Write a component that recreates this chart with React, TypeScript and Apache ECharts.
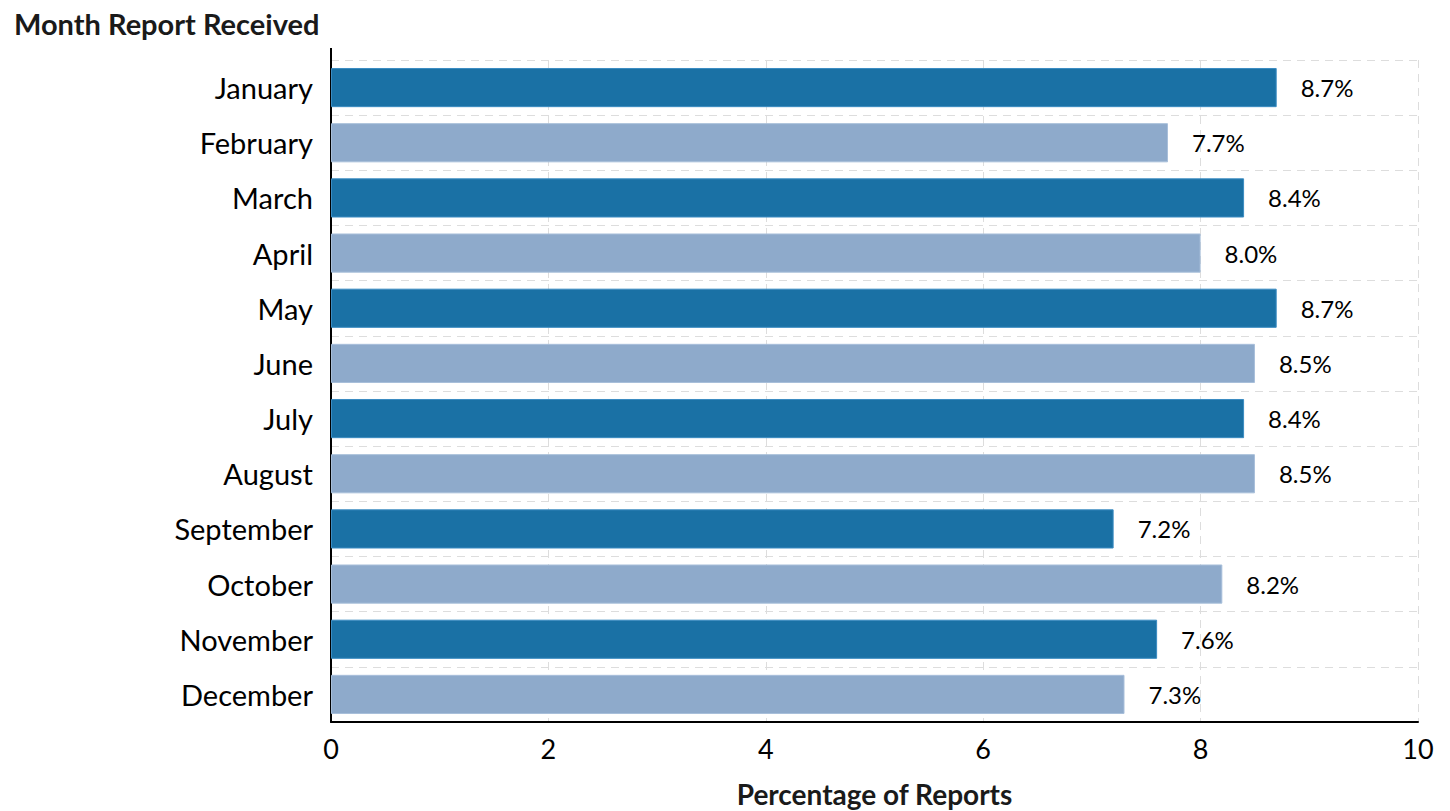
import React, { useEffect, useRef } from "react";
import * as echarts from "echarts";

const months = [
  "January", "February", "March", "April", "May", "June",
  "July", "August", "September", "October", "November", "December",
];
const percentages = [8.7, 7.7, 8.4, 8.0, 8.7, 8.5, 8.4, 8.5, 7.2, 8.2, 7.6, 7.3];
const xTicks = [0, 2, 4, 6, 8, 10];
const darkBlue = "#1a71a5";
const lightBlue = "#8eaacb";

const FONT = "Lato, 'Open Sans', sans-serif";

export default function App() {
  const ref = useRef<HTMLDivElement>(null);
  useEffect(() => {
    if (!ref.current) return;
    const chart = echarts.init(ref.current, undefined, { renderer: "svg" });
    chart.setOption({
      animation: false,
      backgroundColor: "#ffffff",
      title: {
        text: "Month Report Received",
        left: 9,
        top: 4,
        textStyle: { fontFamily: FONT, fontSize: 29, fontWeight: "bold", color: "#1a1a1a" },
      },
      grid: { left: 331, right: 32, top: 60, bottom: 89, outerBoundsMode: "none", containLabel: false },
      xAxis: {
        type: "value",
        min: xTicks[0],
        max: xTicks[xTicks.length - 1],
        interval: 2,
        name: "Percentage of Reports",
        nameLocation: "middle",
        nameGap: 58,
        nameTextStyle: { fontFamily: FONT, fontSize: 28, fontWeight: "bold", color: "#1a1a1a" },
        axisLine: { show: true, lineStyle: { color: "#000", width: 2 } },
        axisTick: { show: false },
        axisLabel: { fontFamily: FONT, fontSize: 27, color: "#000", margin: 13 },
        splitLine: { show: true, lineStyle: { color: "#dddddd", type: [8, 6], width: 1 } },
      },
      yAxis: {
        type: "category",
        data: months,
        inverse: true,
        axisLine: { show: true, lineStyle: { color: "#000", width: 2 } },
        axisTick: { show: false },
        axisLabel: { fontFamily: FONT, fontSize: 29, color: "#000", margin: 18, padding: [4, 0, 0, 0] },
        splitLine: { show: true, lineStyle: { color: "#dddddd", type: [8, 6], width: 1 } },
      },
      graphic: [
        {
          type: "line",
          shape: { x1: 331, y1: 48, x2: 331, y2: 61 },
          style: { stroke: "#000", lineWidth: 2 },
        },
      ],
      series: [
        {
          type: "bar",
          barWidth: "71%",
          data: percentages.map((v, i) => ({
            value: v,
            itemStyle: {
              color: i % 2 === 0 ? darkBlue : lightBlue,
              borderColor: i % 2 === 0 ? "#3b8cc2" : "#a8bfda",
              borderWidth: 1,
            },
          })),
          label: {
            show: true,
            position: "right",
            distance: 24,
            formatter: (p: any) => Number(p.value).toFixed(1) + "%",
            fontFamily: FONT,
            fontSize: 24,
            color: "#000",
          },
        },
      ],
    });
    return () => chart.dispose();
  }, []);
  return (
    <div
      ref={ref}
      style={{ position: "absolute", left: 0, top: 0, width: 1450, height: 811 }}
    />
  );
}
